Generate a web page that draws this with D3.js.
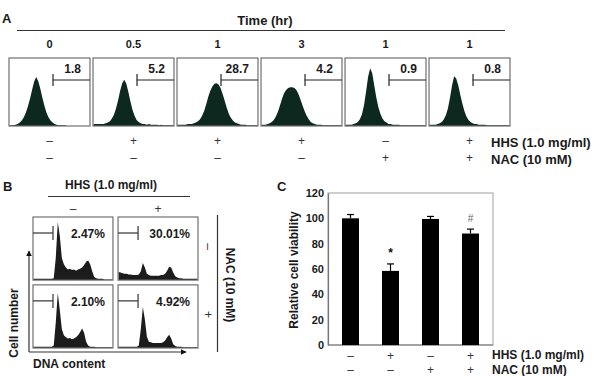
<!DOCTYPE html>
<html>
<head>
<meta charset="utf-8">
<script src="https://cdn.jsdelivr.net/npm/d3@7"></script>
<style>
  body { margin: 0; background: #fff; }
  svg { display: block; font-family: "Liberation Sans", Arial, sans-serif; }
  .b { font-weight: bold; fill: #1a1a1a; }
  .sign { font-weight: normal; fill: #333; }
</style>
</head>
<body>
<svg id="fig" width="600" height="376"></svg>
<script>
// ---- data: panel A (time course histograms) ----
var timeLabels = ["0", "0.5", "1", "3", "1", "1"];
var aValues = ["1.8", "5.2", "28.7", "4.2", "0.9", "0.8"];
var aHHS = ["–", "+", "+", "+", "–", "+"];
var aNAC = ["–", "–", "–", "–", "+", "+"];
var histA0 = [0.01,0.01,0.01,0.02,0.03,0.05,0.08,0.13,0.2,0.29,0.4,0.53,0.65,0.72,0.66,0.55,0.42,0.3,0.2,0.13,0.08,0.05,0.03,0.02,0.01,0.01,0.01,0.01,0,0,0,0,0,0,0,0,0,0,0,0];
var histA1 = [0.03,0.03,0.03,0.03,0.03,0.03,0.04,0.05,0.07,0.11,0.17,0.26,0.38,0.52,0.63,0.68,0.62,0.5,0.36,0.24,0.15,0.09,0.06,0.04,0.03,0.03,0.02,0.03,0.02,0.02,0.02,0.02,0.01,0.02,0.01,0.01,0.01,0.01,0.01,0.01];
var histA2 = [0.02,0.02,0.02,0.02,0.02,0.03,0.03,0.03,0.04,0.05,0.07,0.1,0.15,0.22,0.32,0.43,0.52,0.58,0.62,0.63,0.61,0.56,0.47,0.37,0.27,0.18,0.12,0.08,0.05,0.04,0.03,0.02,0.02,0.02,0.01,0.01,0.01,0.01,0.01,0.01];
var histA3 = [0.02,0.02,0.02,0.03,0.04,0.06,0.09,0.14,0.21,0.3,0.4,0.48,0.53,0.56,0.57,0.57,0.56,0.53,0.47,0.39,0.3,0.22,0.15,0.1,0.06,0.04,0.03,0.02,0.02,0.02,0.01,0.01,0.01,0.01,0.01,0.01,0.01,0.01,0.01,0.01];
var histA4 = [0.02,0.02,0.02,0.02,0.03,0.04,0.06,0.1,0.17,0.3,0.5,0.72,0.85,0.78,0.6,0.42,0.28,0.18,0.11,0.07,0.05,0.03,0.03,0.02,0.02,0.02,0.02,0.01,0.01,0.01,0.01,0.01,0.01,0.01,0.01,0.01,0.01,0.01,0.01,0.01];
var histA5 = [0.02,0.02,0.02,0.02,0.03,0.04,0.06,0.1,0.16,0.26,0.42,0.6,0.73,0.7,0.6,0.46,0.33,0.22,0.14,0.09,0.06,0.04,0.03,0.03,0.02,0.02,0.02,0.02,0.01,0.01,0.01,0.01,0.01,0.01,0.01,0.01,0.01,0.01,0.01,0.01];
var histsA = [histA0, histA1, histA2, histA3, histA4, histA5];

// ---- data: panel B (cell cycle histograms) ----
var bCols = ["–", "+"];   // HHS
var bRows = ["–", "+"];   // NAC
var bValues = ["2.47%", "30.01%", "2.10%", "4.92%"];
var histB0 = [0.02,0.02,0.02,0.02,0.02,0.02,0.02,0.02,0.02,0.02,0.03,0.35,0.92,0.7,0.35,0.25,0.2,0.17,0.18,0.16,0.17,0.15,0.17,0.18,0.2,0.24,0.29,0.31,0.25,0.14,0.05,0.03,0.02,0.02,0.02,0.01,0.01,0.01,0.01,0.01];
var histB1 = [0.13,0.12,0.11,0.1,0.1,0.09,0.09,0.08,0.08,0.08,0.09,0.14,0.27,0.2,0.1,0.08,0.07,0.07,0.07,0.07,0.07,0.08,0.08,0.1,0.15,0.21,0.2,0.12,0.06,0.04,0.03,0.03,0.02,0.02,0.02,0.02,0.02,0.02,0.02,0.02];
var histB2 = [0.02,0.02,0.02,0.02,0.02,0.02,0.02,0.02,0.02,0.02,0.04,0.4,0.87,0.6,0.3,0.2,0.17,0.15,0.16,0.14,0.15,0.17,0.2,0.25,0.31,0.24,0.1,0.04,0.02,0.02,0.02,0.01,0.01,0.01,0.01,0.01,0.01,0.01,0.01,0.01];
var histB3 = [0.02,0.02,0.02,0.02,0.02,0.02,0.02,0.02,0.02,0.02,0.04,0.3,0.65,0.45,0.18,0.1,0.09,0.08,0.08,0.08,0.08,0.08,0.09,0.12,0.17,0.21,0.15,0.06,0.03,0.02,0.02,0.02,0.01,0.01,0.01,0.01,0.01,0.01,0.01,0.01];
var histsB = [histB0, histB1, histB2, histB3];

// ---- data: panel C (viability bars) ----
var cHHS = ["–", "+", "–", "+"];
var cNAC = ["–", "–", "+", "+"];
var viability = [100, 58.5, 99.5, 88];
var viabilityErr = [3, 5.5, 2, 3.5];
var cMarks = ["", "*", "", "#"];
var cTicks = [0, 20, 40, 60, 80, 100, 120];

var svg = d3.select("#fig");
svg.append("rect").attr("width", 600).attr("height", 376).attr("fill", "#fff");

// ================= A =================
var gA = svg.append("g");
gA.append("text").attr("class", "b").attr("x", 2).attr("y", 23).attr("font-size", 13).text("A");
gA.append("text").attr("class", "b").attr("x", 265).attr("y", 25).attr("text-anchor", "middle")
  .attr("font-size", 13).text("Time (hr)");
gA.append("line").attr("x1", 17).attr("x2", 505).attr("y1", 30.5).attr("y2", 30.5)
  .attr("stroke", "#333").attr("stroke-width", 1.2);

var xA = d3.scaleBand().domain(d3.range(6)).range([9, 510]).paddingInner(0.036);
var aTop = 58, aBot = 126;
var yA = d3.scaleLinear().domain([0, 1]).range([aBot, aTop]);

var panelsA = gA.selectAll(".pa").data(histsA).enter().append("g").attr("class", "pa")
  .attr("transform", function (d, i) { return "translate(" + xA(i) + ",0)"; });

panelsA.each(function (h, i) {
  var g = d3.select(this);
  var w = xA.bandwidth();
  var xb = d3.scaleLinear().domain([0, h.length - 1]).range([0.5, w - 0.5]);
  var area = d3.area().x(function (d, k) { return xb(k); }).y0(aBot).y1(function (d) { return yA(d); });
  g.append("path").datum(h).attr("d", area).attr("fill", "#0d281f");
  g.append("rect").attr("x", 0).attr("y", aTop).attr("width", w).attr("height", aBot - aTop)
    .attr("fill", "none").attr("stroke", "#707070").attr("stroke-width", 1.2);
  // gate bracket
  g.append("line").attr("x1", 44).attr("x2", w).attr("y1", 80).attr("y2", 80).attr("stroke", "#222").attr("stroke-width", 1.2);
  g.append("line").attr("x1", 44).attr("x2", 44).attr("y1", 74).attr("y2", 86).attr("stroke", "#222").attr("stroke-width", 1.2);
  g.append("text").attr("class", "b").attr("x", w - 9).attr("y", 73).attr("text-anchor", "end")
    .attr("font-size", 12).text(aValues[i]);
  g.append("text").attr("class", "b").attr("x", w / 2).attr("y", 48).attr("text-anchor", "middle")
    .attr("font-size", 11).text(timeLabels[i]);
  g.append("text").attr("class", "sign").attr("x", w / 2).attr("y", 145).attr("text-anchor", "middle")
    .attr("font-size", 12).text(aHHS[i]);
  g.append("text").attr("class", "sign").attr("x", w / 2).attr("y", 162).attr("text-anchor", "middle")
    .attr("font-size", 12).text(aNAC[i]);
});
gA.append("text").attr("class", "b").attr("x", 491).attr("y", 147).attr("font-size", 13).text("HHS (1.0 mg/ml)");
gA.append("text").attr("class", "b").attr("x", 491).attr("y", 164).attr("font-size", 13).text("NAC (10 mM)");

// ================= B =================
var gB = svg.append("g");
gB.append("text").attr("class", "b").attr("x", 3).attr("y", 191).attr("font-size", 13).text("B");
gB.append("text").attr("class", "b").attr("x", 111).attr("y", 189).attr("text-anchor", "middle")
  .attr("font-size", 12).text("HHS (1.0 mg/ml)");
gB.append("line").attr("x1", 48).attr("x2", 190).attr("y1", 196.5).attr("y2", 196.5).attr("stroke", "#333").attr("stroke-width", 1.2);

var xB = d3.scaleBand().domain([0, 1]).range([33, 198]).paddingInner(0.06);
var yB = d3.scaleBand().domain([0, 1]).range([217, 348]).paddingInner(0.07);

bCols.forEach(function (c, i) {
  gB.append("text").attr("class", "sign").attr("x", xB(i) + xB.bandwidth() / 2).attr("y", 213)
    .attr("text-anchor", "middle").attr("font-size", 12).text(c);
});

histsB.forEach(function (h, n) {
  var col = n % 2, row = Math.floor(n / 2);
  var x0 = xB(col), y0 = yB(row), w = xB.bandwidth(), hh = yB.bandwidth();
  var g = gB.append("g").attr("transform", "translate(" + x0 + "," + y0 + ")");
  var xb = d3.scaleLinear().domain([0, h.length - 1]).range([0.5, w - 0.5]);
  var yb = d3.scaleLinear().domain([0, 1]).range([hh, 0]);
  var area = d3.area().x(function (d, k) { return xb(k); }).y0(hh).y1(function (d) { return yb(d); });
  g.append("path").datum(h).attr("d", area).attr("fill", "#1c1c1c");
  g.append("rect").attr("width", w).attr("height", hh).attr("fill", "none")
    .attr("stroke", "#707070").attr("stroke-width", 1.2);
  g.append("line").attr("x1", 0).attr("x2", 20).attr("y1", 16).attr("y2", 16).attr("stroke", "#333").attr("stroke-width", 1.2);
  g.append("line").attr("x1", 20).attr("x2", 20).attr("y1", 9).attr("y2", 23).attr("stroke", "#333").attr("stroke-width", 1.2);
  g.append("text").attr("class", "b").attr("x", w - 8).attr("y", 21).attr("text-anchor", "end")
    .attr("font-size", 12).text(bValues[n]);
});

// axes arrows
var defs = svg.append("defs");
defs.append("marker").attr("id", "arr").attr("viewBox", "0 0 10 10").attr("refX", 9).attr("refY", 5)
  .attr("markerWidth", 5).attr("markerHeight", 5).attr("orient", "auto")
  .append("path").attr("d", "M0,0L10,5L0,10z").attr("fill", "#111");
gB.append("line").attr("x1", 29).attr("x2", 29).attr("y1", 352).attr("y2", 251)
  .attr("stroke", "#333").attr("stroke-width", 1.2).attr("marker-end", "url(#arr)");
gB.append("line").attr("x1", 29).attr("x2", 186).attr("y1", 352).attr("y2", 352)
  .attr("stroke", "#333").attr("stroke-width", 1.2).attr("marker-end", "url(#arr)");
gB.append("text").attr("class", "b").attr("transform", "translate(18,323) rotate(-90)")
  .attr("text-anchor", "middle").attr("font-size", 12).text("Cell number");
gB.append("text").attr("class", "b").attr("x", 33).attr("y", 368).attr("font-size", 12).text("DNA content");

gB.append("line").attr("x1", 217.5).attr("x2", 217.5).attr("y1", 215).attr("y2", 352).attr("stroke", "#333").attr("stroke-width", 1.2);
gB.append("text").attr("class", "b").attr("transform", "translate(226,285) rotate(90)")
  .attr("text-anchor", "middle").attr("font-size", 12).text("NAC (10 mM)");
bRows.forEach(function (r, i) {
  gB.append("text").attr("class", "sign").attr("transform", "translate(204," + (yB(i) + yB.bandwidth() / 2 - 2) + ") rotate(90)")
    .attr("text-anchor", "middle").attr("font-size", 12).text(r);
});

// ================= C =================
var gC = svg.append("g");
gC.append("text").attr("class", "b").attr("x", 277).attr("y", 191).attr("font-size", 13).text("C");
gC.append("text").attr("class", "b").attr("transform", "translate(298,270) rotate(-90)")
  .attr("text-anchor", "middle").attr("font-size", 12).text("Relative cell viability");

var cL = 328, cR = 493, cT = 193, cB = 345;
var yC = d3.scaleLinear().domain([0, 120]).range([cB, cT]);
var xC = d3.scaleBand().domain(d3.range(4)).range([cL, cR]).paddingInner(0.575).paddingOuter(0.35);

gC.append("rect").attr("x", cL).attr("y", cT).attr("width", cR - cL).attr("height", cB - cT)
  .attr("fill", "none").attr("stroke", "#a0a0a0").attr("stroke-width", 1);

var yAxis = d3.axisLeft(yC).tickValues(cTicks).tickSize(0).tickPadding(4);
gC.append("g").attr("transform", "translate(" + cL + ",0)").call(yAxis)
  .call(function (g) {
    g.select(".domain").attr("stroke", "#777").attr("stroke-width", 1.2);
    g.selectAll("text").attr("font-family", "Liberation Sans, Arial, sans-serif")
      .attr("font-weight", "bold").attr("font-size", 11).attr("fill", "#1a1a1a");
  });
gC.append("line").attr("x1", cL).attr("x2", cR).attr("y1", cB).attr("y2", cB).attr("stroke", "#777").attr("stroke-width", 1.2);

var bars = gC.selectAll(".bar").data(viability).enter();
bars.append("rect").attr("class", "bar")
  .attr("x", function (d, i) { return xC(i); })
  .attr("y", function (d) { return yC(d); })
  .attr("width", xC.bandwidth())
  .attr("height", function (d) { return cB - yC(d); })
  .attr("fill", "#000");
bars.append("line")
  .attr("x1", function (d, i) { return xC(i) + xC.bandwidth() / 2; })
  .attr("x2", function (d, i) { return xC(i) + xC.bandwidth() / 2; })
  .attr("y1", function (d) { return yC(d); })
  .attr("y2", function (d, i) { return yC(d + viabilityErr[i]); })
  .attr("stroke", "#000").attr("stroke-width", 1.2);
bars.append("line")
  .attr("x1", function (d, i) { return xC(i) + xC.bandwidth() / 2 - 3.5; })
  .attr("x2", function (d, i) { return xC(i) + xC.bandwidth() / 2 + 3.5; })
  .attr("y1", function (d, i) { return yC(d + viabilityErr[i]); })
  .attr("y2", function (d, i) { return yC(d + viabilityErr[i]); })
  .attr("stroke", "#000").attr("stroke-width", 1.2);
bars.append("text")
  .attr("x", function (d, i) { return xC(i) + xC.bandwidth() / 2; })
  .attr("y", function (d, i) { return yC(d + viabilityErr[i]) - 7; })
  .attr("text-anchor", "middle")
  .attr("font-size", function (d, i) { return cMarks[i] === "*" ? 12 : 10; })
  .attr("font-weight", function (d, i) { return cMarks[i] === "*" ? "bold" : "normal"; })
  .attr("fill", function (d, i) { return cMarks[i] === "*" ? "#111" : "#666"; })
  .text(function (d, i) { return cMarks[i]; });

cHHS.forEach(function (s, i) {
  gC.append("text").attr("class", "sign").attr("x", xC(i) + xC.bandwidth() / 2).attr("y", 360)
    .attr("text-anchor", "middle").attr("font-size", 12).text(s);
  gC.append("text").attr("class", "sign").attr("x", xC(i) + xC.bandwidth() / 2).attr("y", 374)
    .attr("text-anchor", "middle").attr("font-size", 12).text(cNAC[i]);
});
gC.append("text").attr("class", "b").attr("x", 492).attr("y", 359).attr("font-size", 12).text("HHS (1.0 mg/ml)");
gC.append("text").attr("class", "b").attr("x", 492).attr("y", 374).attr("font-size", 12).text("NAC (10 mM)");
</script>
</body>
</html>
